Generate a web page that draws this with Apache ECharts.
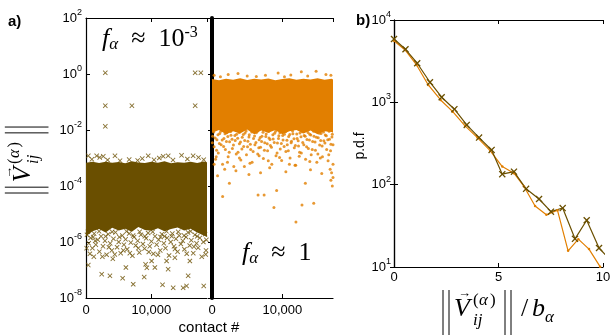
<!DOCTYPE html>
<html><head><meta charset="utf-8">
<script src="https://cdn.jsdelivr.net/npm/echarts@6/dist/echarts.min.js"></script>
<style>html,body{margin:0;padding:0;background:#fff}#c{width:611px;height:335px}</style>
</head><body><div id="c"></div>
<script>
// ---------- DATA ----------
// Panel a, left (f ~ 1e-3): dense band envelope
const bandXLeft   = [0, 1000, 2000, 3000, 4000, 5000, 6000, 7000, 8000, 9000, 10000, 11000, 12000, 13000, 14000, 15000, 16000, 17000, 18000, 18500];
const bandTopLeft = [6.8e-4, 7.4e-4, 6.6e-4, 7.3e-4, 6.8e-4, 7.2e-4, 6.5e-4, 7.6e-4, 6.9e-4, 6.6e-4, 7.4e-4, 6.8e-4, 7.7e-4, 6.5e-4, 7.1e-4, 6.7e-4, 7.3e-4, 6.6e-4, 7.5e-4, 7.1e-4];
const bandBotLeft = [1.6e-6, 2.4e-6, 2.9e-6, 2.2e-6, 3.2e-6, 2.6e-6, 3.0e-6, 2.3e-6, 3.4e-6, 2.7e-6, 2.5e-6, 3.1e-6, 2.4e-6, 2.9e-6, 3.3e-6, 2.6e-6, 3.0e-6, 2.2e-6, 1.7e-6, 1.5e-6];
// individual crosses (contact #, |V|)
const darkOutliers = [[2950,1.1],[2950,0.074],[2950,0.0135],[7020,0.074],[16690,1.1],[17560,1.1],[16690,0.074],
  [350,1.2e-3],[1630,1.2e-3],[2640,1.15e-3],[4430,1.2e-3],[9510,1.2e-3],[11800,1.15e-3],[12570,1.2e-3],[14610,1.25e-3],[16380,1.2e-3],
  [900,9e-4],[2100,1.05e-3],[3300,8.5e-4],[5200,8e-4],[6600,8.8e-4],[7900,8.2e-4],[8600,9.5e-4],[10400,8.6e-4],[11200,1.0e-3],[13300,8.4e-4],[15500,9.2e-4],[17200,1.05e-3],[18000,8.7e-4]];
const darkFringe = [[150,1.8e-6],[420,9e-7],[700,1.4e-6],[980,6e-7],[1250,2.0e-6],[1500,8e-7],[1800,1.2e-6],[2050,4.5e-7],[2300,1.6e-6],[2600,7e-7],
  [2900,1.1e-6],[3150,3.5e-7],[3400,1.9e-6],[3700,9e-7],[3950,5e-7],[4200,1.3e-6],[4500,2.2e-6],[4750,6.5e-7],[5000,1.0e-6],[5300,4e-7],
  [5550,1.7e-6],[5800,8e-7],[6050,1.25e-6],[6300,5.5e-7],[6600,2.0e-6],[6850,9.5e-7],[7100,3.2e-7],[7350,1.5e-6],[7600,7.5e-7],[7900,1.1e-6],
  [8150,4.2e-7],[8400,1.8e-6],[8700,8.5e-7],[8950,5.8e-7],[9200,1.35e-6],[9500,2.1e-6],[9750,7e-7],[10000,1.05e-6],[10300,3.8e-7],[10550,1.6e-6],
  [10800,8e-7],[11100,1.2e-6],[11350,5e-7],[11600,1.9e-6],[11900,9e-7],[12150,6e-7],[12400,1.4e-6],[12700,3.3e-7],[12950,1.0e-6],[13200,2.0e-6],
  [13450,7e-7],[13750,1.3e-6],[14000,4.5e-7],[14250,1.7e-6],[14500,8.5e-7],[14800,1.1e-6],[15050,5.5e-7],[15300,1.5e-6],[15600,2.2e-6],[15850,7.5e-7],
  [16100,1.15e-6],[16400,4e-7],[16650,1.8e-6],[16900,9e-7],[17150,6.2e-7],[17400,1.4e-6],[17700,3e-7],[17950,1.0e-6],[18200,1.9e-6],[18350,5e-7],
  [300,2.3e-6],[1100,1.5e-6],[2000,2.4e-6],[3000,1.6e-6],[4000,2.3e-6],[5100,1.5e-6],[6200,2.4e-6],[7200,1.7e-6],[8200,2.3e-6],[9000,1.6e-6],
  [10200,2.3e-6],[11400,1.5e-6],[12300,2.4e-6],[13100,1.6e-6],[14100,2.3e-6],[15000,1.7e-6],[16000,2.4e-6],[17000,1.6e-6],[17900,2.3e-6],[18400,1.2e-6],
  [100,6e-7],[600,3.8e-7],[1400,1.1e-6],[2500,3e-7],[3500,6.5e-7],[4400,3.6e-7],[5700,5e-7],[6700,4e-7],[8000,6e-7],[9600,4.4e-7],
  [11000,3.5e-7],[12000,1.6e-6],[13600,5.6e-7],[15400,3.8e-7],[16500,6.8e-7],[18300,3.6e-7]];
const darkLow = [[350,1.5e-7],[2400,7.1e-8],[3660,6.2e-8],[5600,5.1e-8],[6100,1.23e-7],[7220,3.1e-8],[8900,5.6e-8],[9110,1.6e-7],[10030,2.1e-7],
  [10530,1.23e-7],[11700,2.95e-8],[12320,2.1e-7],[12560,1.07e-7],[13330,2.3e-8],[13590,2.75e-7],[14850,2.3e-8],[15370,2.7e-8],[15620,6.2e-8],
  [15880,2.1e-7],[18000,2.7e-8],[9300,1.2e-7],[4100,2.5e-7],[1200,3e-7]];

// Panel a, right (f ~ 1): dense band envelope
const bandXRight   = [0, 1000, 2000, 3000, 4000, 5000, 6000, 7000, 8000, 9000, 10000, 11000, 12000, 13000, 14000, 15000, 16000, 17000, 17200];
const bandTopRight = [6.6e-1, 6.0e-1, 6.8e-1, 6.2e-1, 7.0e-1, 6.1e-1, 6.7e-1, 6.3e-1, 6.9e-1, 6.0e-1, 6.6e-1, 7.0e-1, 6.2e-1, 6.8e-1, 6.4e-1, 7.1e-1, 6.2e-1, 6.7e-1, 6.4e-1];
const bandBotRight = [8e-3, 1.0e-2, 7e-3, 9e-3, 7.5e-3, 1.05e-2, 7e-3, 9.5e-3, 8e-3, 1.0e-2, 7e-3, 9e-3, 1.0e-2, 7.5e-3, 9.5e-3, 7e-3, 9e-3, 8.5e-3, 8e-3];
const orangeTop = [[300,0.9],[1200,0.8],[2300,0.95],[3700,1.05],[5000,0.85],[6300,0.82],[7600,0.9],[9400,1.08],[10300,0.8],[11200,0.92],
  [12700,1.2],[13600,0.85],[14800,1.25],[16200,0.95],[16900,0.9]];
const orangeFringe = [[100,6e-3],[300,2.5e-3],[500,9e-4],[700,4.5e-3],[900,1.5e-3],[1100,7.5e-3],[1300,3e-3],[1500,6e-4],[1700,5e-3],[1900,2e-3],
  [2100,8e-3],[2300,1.1e-3],[2500,3.8e-3],[2700,6.5e-3],[2900,2.2e-3],[3100,5e-4],[3300,4.2e-3],[3500,7e-3],[3700,1.6e-3],[3900,3.2e-3],
  [4100,8.5e-4],[4300,5.5e-3],[4500,2.6e-3],[4700,7.8e-3],[4900,1.3e-3],[5100,4e-3],[5300,6.8e-3],[5500,2e-3],[5700,7e-4],[5900,5e-3],
  [6100,3e-3],[6300,8e-3],[6500,1.4e-3],[6700,4.5e-3],[6900,2.4e-3],[7100,6e-3],[7300,9.5e-4],[7500,3.5e-3],[7700,7.2e-3],[7900,1.8e-3],
  [8100,5.2e-3],[8300,2.8e-3],[8500,6e-4],[8700,4.8e-3],[8900,7.6e-3],[9100,1.2e-3],[9300,3.4e-3],[9500,6.2e-3],[9700,2.1e-3],[9900,8.2e-4],
  [10100,4.4e-3],[10300,7e-3],[10500,1.7e-3],[10700,3e-3],[10900,5.8e-3],[11100,1e-3],[11300,4e-3],[11500,7.4e-3],[11700,2.3e-3],[11900,5.5e-4],
  [12100,5e-3],[12300,2.7e-3],[12500,7.8e-3],[12700,1.5e-3],[12900,3.6e-3],[13100,6.4e-3],[13300,9e-4],[13500,4.6e-3],[13700,2.2e-3],[13900,7e-3],
  [14100,1.3e-3],[14300,3.9e-3],[14500,6e-3],[14700,1.9e-3],[14900,7e-4],[15100,5.3e-3],[15300,2.9e-3],[15500,7.5e-3],[15700,1.1e-3],[15900,4.1e-3],
  [16100,6.6e-3],[16300,2e-3],[16500,8e-4],[16700,4.7e-3],[16900,3.1e-3],[17100,7.1e-3],
  [50,3.5e-3],[250,8.5e-3],[450,5.2e-3],[650,1.9e-3],[850,6.8e-3],[1050,3.3e-3],[1250,9e-3],[1450,4.4e-3],[1650,2.6e-3],[1850,7.3e-3],
  [2050,3.9e-3],[2250,5.9e-3],[2450,1.6e-3],[2650,8.8e-3],[2850,4.7e-3],[3050,2.9e-3],[3250,6.3e-3],[3450,1.4e-3],[3650,5.1e-3],[3850,8.1e-3],
  [4050,3.7e-3],[4250,2.1e-3],[4450,6.9e-3],[4650,4.2e-3],[4850,9.2e-3],[5050,2.5e-3],[5250,5.6e-3],[5450,3.1e-3],[5650,8.4e-3],[5850,1.7e-3],
  [6050,6.1e-3],[6250,3.6e-3],[6450,9e-3],[6650,2.3e-3],[6850,5.4e-3],[7050,3.9e-3],[7250,8.3e-3],[7450,1.9e-3],[7650,5.8e-3],[7850,3.2e-3],
  [8050,8.9e-3],[8250,4.6e-3],[8450,2.4e-3],[8650,6.7e-3],[8850,3.6e-3],[9050,9.1e-3],[9250,1.5e-3],[9450,5e-3],[9650,7.9e-3],[9850,3.3e-3],
  [10050,6.4e-3],[10250,2.6e-3],[10450,8.6e-3],[10650,4.3e-3],[10850,1.8e-3],[11050,6.9e-3],[11250,3.5e-3],[11450,9.3e-3],[11650,4.9e-3],[11850,2.8e-3],
  [12050,7.2e-3],[12250,4.1e-3],[12450,1.6e-3],[12650,5.7e-3],[12850,8.7e-3],[13050,3e-3],[13250,6e-3],[13450,2.5e-3],[13650,8.2e-3],[13850,4.4e-3],
  [14050,6.6e-3],[14250,2e-3],[14450,9e-3],[14650,3.7e-3],[14850,5.5e-3],[15050,1.4e-3],[15250,7.7e-3],[15450,4.2e-3],[15650,2.7e-3],[15850,8.5e-3],
  [16050,3.4e-3],[16250,6.2e-3],[16450,4.5e-3],[16650,9.1e-3],[16850,1.8e-3],[17050,5.6e-3],[17200,3e-3]];
const orangeLow = [[790,2.3e-4],[2470,1.26e-4],[1510,4.2e-5],[5250,2.6e-4],[6550,4.8e-5],[7410,4.8e-5],[9190,6.9e-5],[8800,1.7e-5],[11930,5.2e-6],
  [12790,2.1e-5],[14460,2.4e-5],[13270,1.26e-4],[300,6e-4],[1800,4e-4],[3400,3.5e-4],[4600,5e-4],[6900,3e-4],[8200,4.5e-4],[10500,3.2e-4],
  [11800,5.5e-4],[14000,3.8e-4],[15600,2.8e-4],[16800,4e-4],[16900,1.6e-4],[17100,1e-4],[17000,3e-4],[17200,2e-4],
  [600,1.1e-3],[2200,7e-4],[3900,1e-3],[5400,6.5e-4],[6700,1.2e-3],[8000,8e-4],[9600,1.05e-3],[11000,6e-4],[12400,1.15e-3],[13900,7.5e-4],
  [15400,1e-3],[16600,1.3e-3],[17200,6e-4]];

// Panel b: p.d.f. curves
const pdfXDark = [0, 0.55, 1.11, 1.72, 2.28, 2.89, 3.48, 4.07, 4.67, 5.18, 5.74, 6.32, 6.94, 7.51, 8.07, 8.66, 9.22, 9.81, 10.38];
const pdfDark  = [5880, 4410, 2985, 1755, 1153, 825, 532, 373, 264, 134, 144, 89, 67, 47, 52, 22, 37, 17, 11.9];
const pdfXOrange = [0, 0.53, 1.08, 1.64, 2.23, 2.81, 3.40, 3.99, 4.6, 5.18, 5.74, 6.22, 6.75, 7.29, 7.82, 8.33, 8.82, 9.33, 9.86, 10.4];
const pdfOrange  = [5610, 4330, 2845, 1627, 1069, 771, 517, 373, 259, 166, 138, 95, 55, 43, 49, 15.7, 21.8, 16.5, 10.1, 6.5];

// ---------- STYLE ----------
const DARK = '#6a4f00', ORANGE = '#e27f00';
const SANS = 'Liberation Sans', SERIF = 'Liberation Serif';
const XSYM = 'path://M0,1.3L1.3,0L5,3.7L8.7,0L10,1.3L6.3,5L10,8.7L8.7,10L5,6.3L1.3,10L0,8.7L3.7,5Z';

const chart = echarts.init(document.getElementById('c'), null, {renderer:'canvas'});
const powRich = {
  b: {fontFamily: SANS, fontSize: 13, color: '#000', lineHeight: 16},
  s: {fontFamily: SANS, fontSize: 9, color: '#000', padding: [0, 0, 11, 0]}
};
function powLabel(v) { const e = Math.round(Math.log10(v)); return '{b|10}{s|' + (e < 0 ? '-' + (-e) : e) + '}'; }
function commas(v) { return String(v).replace(/\B(?=(\d{3})+(?!\d))/g, ','); }
const tickIn = {show: true, inside: true, length: 4, lineStyle: {color: '#000', width: 1}};
const line1 = {show: true, lineStyle: {color: '#000', width: 1.2}};
const noLbl = {show: false};

function band(xi, yi, xs, top, bot, color) {
  return {type: 'custom', xAxisIndex: xi, yAxisIndex: yi, silent: true, z: 1,
    data: [[xs[0], top[0]]],
    renderItem: function (params, api) {
      const pts = [];
      for (let i = 0; i < xs.length; i++) pts.push(api.coord([xs[i], top[i]]));
      for (let i = xs.length - 1; i >= 0; i--) pts.push(api.coord([xs[i], bot[i]]));
      return {type: 'polygon', shape: {points: pts}, style: {fill: color}};
    }};
}
function txt(str, x, base, size, italic) {
  return {type: 'text', x: x, y: base - 0.34 * size,
    style: {text: str, font: (italic ? 'italic ' : '') + size + 'px "' + SERIF + '"', fill: '#000', align: 'left', verticalAlign: 'middle'}};
}
function vbar(x) { return {type: 'line', shape: {x1: x, y1: -28, x2: x, y2: 17}, style: {stroke: '#000', lineWidth: 1}}; }
function formula(withB) {
  const ch = [vbar(0), vbar(6), txt('V', 11, 0, 26, true), txt('\u2192', 15, -20, 13, false),
    txt('(', 30, -12, 17, false), txt('\u03b1', 36, -12, 17, true), txt(')', 47, -12, 17, false),
    txt('ij', 30, 8, 17, true), vbar(62), vbar(68)];
  if (withB) ch.push(txt('/', 78, 0, 26, false), txt('b', 89, 0, 26, true), txt('\u03b1', 102, 5, 17, true));
  return ch;
}

const fRich = {
  f: {fontFamily: SERIF, fontStyle: 'italic', fontSize: 26, color: '#000'},
  a: {fontFamily: SERIF, fontStyle: 'italic', fontSize: 17, color: '#000', padding: [12, 0, 0, 0]},
  n: {fontFamily: SERIF, fontSize: 26, color: '#000'},
  s: {fontFamily: SERIF, fontSize: 16, color: '#000', padding: [0, 0, 12, 0]}
};

const option = {
  animation: false,
  backgroundColor: '#fff',
  grid: [
    {left: 86, top: 18, width: 121, height: 280, outerBoundsMode: 'none'},
    {left: 212, top: 18, width: 121, height: 280, outerBoundsMode: 'none'},
    {left: 394, top: 20, width: 209, height: 247, outerBoundsMode: 'none'}
  ],
  xAxis: [
    {gridIndex: 0, type: 'value', min: 0, max: 18500, interval: 10000, axisLine: line1, axisTick: tickIn, splitLine: {show: false},
      axisLabel: {margin: 6, showMinLabel: true, showMaxLabel: false, hideOverlap: false, fontFamily: SANS, fontSize: 13, color: '#000', formatter: commas}},
    {gridIndex: 0, type: 'value', position: 'top', min: 0, max: 18500, interval: 10000, axisLine: line1, axisTick: tickIn, splitLine: {show: false}, axisLabel: noLbl},
    {gridIndex: 1, type: 'value', min: 0, max: 17200, interval: 10000, axisLine: line1, splitLine: {show: false}, axisTick: tickIn,
      axisLabel: {margin: 6, showMinLabel: true, showMaxLabel: false, hideOverlap: false, fontFamily: SANS, fontSize: 13, color: '#000', formatter: commas}},
    {gridIndex: 1, type: 'value', position: 'top', min: 0, max: 17200, interval: 10000, axisLine: line1, splitLine: {show: false}, axisTick: tickIn, axisLabel: noLbl},
    {gridIndex: 2, type: 'value', min: 0, max: 10, interval: 5, axisLine: line1, axisTick: tickIn, splitLine: {show: false},
      axisLabel: {margin: 4, fontFamily: SANS, fontSize: 13, color: '#000'}},
    {gridIndex: 2, type: 'value', position: 'top', min: 0, max: 10, interval: 5, axisLine: line1, axisTick: tickIn, splitLine: {show: false}, axisLabel: noLbl}
  ],
  yAxis: [
    {gridIndex: 0, type: 'log', logBase: 10, min: 1e-8, max: 1e2, interval: 2, axisLine: line1, axisTick: tickIn, splitLine: {show: false},
      axisLabel: {margin: 4, formatter: powLabel, rich: powRich}},
    {gridIndex: 1, type: 'log', logBase: 10, min: 1e-8, max: 1e2, interval: 2, offset: 3, axisLine: {show: true, lineStyle: {color: '#000', width: 4}},
      axisTick: {show: false}, splitLine: {show: false}, axisLabel: noLbl},
    {gridIndex: 1, type: 'log', logBase: 10, position: 'right', min: 1e-8, max: 1e2, interval: 2, axisLine: line1, axisTick: tickIn, splitLine: {show: false}, axisLabel: noLbl},
    {gridIndex: 2, type: 'log', logBase: 10, min: 10, max: 1e4, interval: 1, axisLine: line1, axisTick: tickIn, splitLine: {show: false},
      axisLabel: {margin: 3, formatter: powLabel, rich: powRich}},
    {gridIndex: 2, type: 'log', logBase: 10, position: 'right', min: 10, max: 1e4, interval: 1, axisLine: line1, axisTick: tickIn, splitLine: {show: false}, axisLabel: noLbl}
  ],
  series: [
    band(0, 0, bandXLeft, bandTopLeft, bandBotLeft, DARK),
    {type: 'scatter', xAxisIndex: 0, yAxisIndex: 0, symbol: XSYM, symbolSize: 5, itemStyle: {color: DARK}, z: 2, data: darkFringe},
    {type: 'scatter', xAxisIndex: 0, yAxisIndex: 0, symbol: XSYM, symbolSize: 5, itemStyle: {color: DARK}, z: 2, data: darkLow},
    {type: 'scatter', xAxisIndex: 0, yAxisIndex: 0, symbol: XSYM, symbolSize: 5, itemStyle: {color: DARK}, z: 2, data: darkOutliers},
    band(2, 1, bandXRight, bandTopRight, bandBotRight, ORANGE),
    {type: 'scatter', xAxisIndex: 2, yAxisIndex: 1, symbol: 'circle', symbolSize: 3, itemStyle: {color: ORANGE}, z: 2, data: orangeTop},
    {type: 'scatter', xAxisIndex: 2, yAxisIndex: 1, symbol: 'circle', symbolSize: 3, itemStyle: {color: ORANGE}, z: 2, data: orangeFringe},
    {type: 'scatter', xAxisIndex: 2, yAxisIndex: 1, symbol: 'circle', symbolSize: 3, itemStyle: {color: ORANGE}, z: 2, data: orangeLow},
    {type: 'line', xAxisIndex: 4, yAxisIndex: 3, clip: true, symbol: 'circle', symbolSize: 2.5, showSymbol: true,
      lineStyle: {color: ORANGE, width: 1.2}, itemStyle: {color: ORANGE},
      data: pdfXOrange.map((x, i) => [x, pdfOrange[i]])},
    {type: 'line', xAxisIndex: 4, yAxisIndex: 3, clip: true, symbol: XSYM, symbolSize: 7, showSymbol: true,
      lineStyle: {color: DARK, width: 1.2}, itemStyle: {color: DARK},
      data: pdfXDark.map((x, i) => [x, pdfDark[i]])}
  ],
  graphic: [
    {type: 'text', x: 8, y: 22, style: {text: 'a)', font: 'bold 15px "' + SANS + '"', fill: '#000', verticalAlign: 'middle'}},
    {type: 'text', x: 356, y: 21, style: {text: 'b)', font: 'bold 15px "' + SANS + '"', fill: '#000', verticalAlign: 'middle'}},
    {type: 'text', x: 209, y: 328, style: {text: 'contact #', font: '15px "' + SANS + '"', fill: '#000', align: 'center', verticalAlign: 'middle'}},
    {type: 'text', x: 360, y: 146, rotation: Math.PI / 2, style: {text: 'p.d.f', font: '14px "' + SANS + '"', fill: '#000', align: 'center', verticalAlign: 'middle'}},
    {type: 'text', x: 102, y: 39, z: 10, style: {text: '{f|f}{a|\u03b1}{n|\u2002\u2248\u200210}{s|-3}', rich: fRich, verticalAlign: 'middle'}},
    {type: 'text', x: 242, y: 253, z: 10, style: {text: '{f|f}{a|\u03b1}{n|\u2002\u2248\u20021}', rich: fRich, verticalAlign: 'middle'}},
    {type: 'group', x: 443, y: 318, children: formula(true)},
    {type: 'group', x: 32, y: 193, rotation: Math.PI / 2, scaleX: 0.97, scaleY: 0.97, children: formula(false)}
  ]
};
chart.setOption(option);
</script></body></html>
